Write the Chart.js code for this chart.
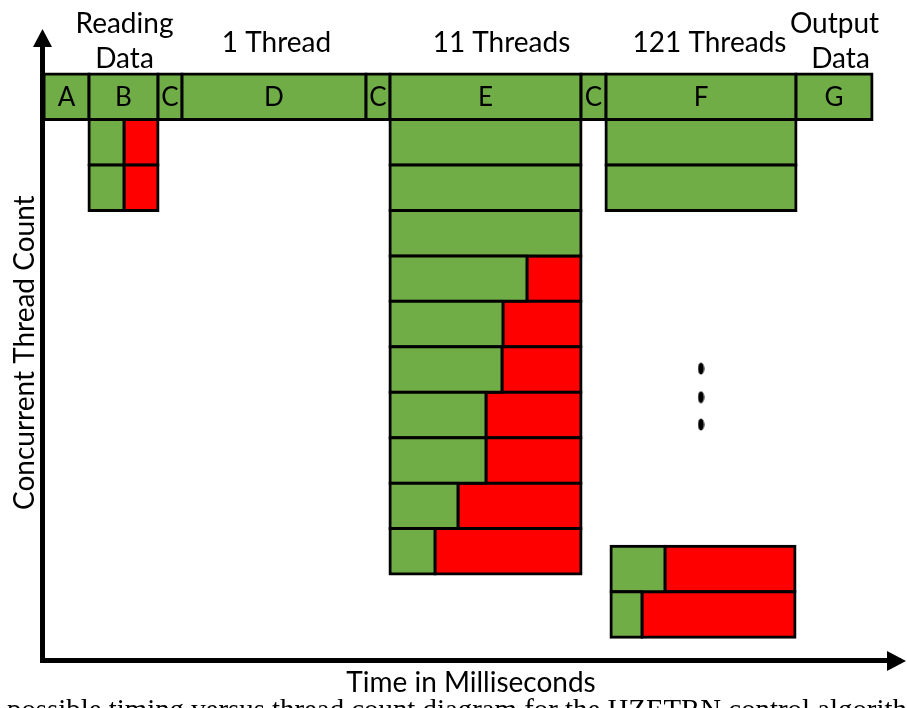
<!DOCTYPE html>
<html>
<head>
<meta charset="utf-8">
<script src="https://cdn.jsdelivr.net/npm/chart.js@4/dist/chart.umd.min.js"></script>
<style>
  html, body { margin: 0; padding: 0; background: #ffffff; }
  #wrap { width: 907px; height: 708px; position: relative; overflow: hidden; }
</style>
</head>
<body>
<div id="wrap"><canvas id="c" width="907" height="708"></canvas></div>
<script>
// ---------------- data (time axis in ms) ----------------
const phaseLabels = ['A', 'B', 'C', 'D', 'C', 'E', 'C', 'F', 'G'];
const phaseBounds = [2, 47, 116, 140, 324, 348, 539, 564, 754, 830];

const headerLines = [['Reading', 'Data'], ['1 Thread'], ['11 Threads'], ['121 Threads'], ['Output', 'Data']];
const headerPhase = [1, 3, 5, 7, 8];

// Reading data (phase B): two concurrent threads
const readRows = [1, 2];
const readStart = 47;
const readBusyEnd = [82, 82];
const readEnd = 116;

// 11 threads (phase E)
const e11Rows = [1, 2, 3, 4, 5, 6, 7, 8, 9, 10];
const e11Start = 348;
const e11BusyEnd = [539, 539, 539, 485, 461, 460, 444, 444, 416, 393];
const e11End = 539;

// 121 threads (phase F): first two threads ...
const f121TopRows = [1, 2];
const f121TopStart = 564;
const f121TopBusyEnd = [754, 754];
const f121TopEnd = 754;
// ... and the last two threads
const f121BottomRows = [10.39, 11.39];
const f121BottomStart = 569;
const f121BottomBusyEnd = [623, 600];
const f121BottomEnd = 753;

// vertical ellipsis between them
const ellipsisRows = [6.48, 7.11, 7.71];

// ---------------- build datasets ----------------
const GREEN = '#70AD47';
const RED = '#FF0000';
const center = r => r + 0.5;

const phaseData = phaseLabels.map((l, i) => ({ x: [phaseBounds[i], phaseBounds[i + 1]], y: center(0) }));

const busyData = [];
const idleData = [];
function addGroup(rows, start, busyEnd, end, busy, idle) {
  rows.forEach((r, i) => {
    busy.push({ x: [start, busyEnd[i]], y: center(r) });
    if (busyEnd[i] < end) idle.push({ x: [busyEnd[i], end], y: center(r) });
  });
}
addGroup(readRows, readStart, readBusyEnd, readEnd, busyData, idleData);
addGroup(e11Rows, e11Start, e11BusyEnd, e11End, busyData, idleData);
addGroup(f121TopRows, f121TopStart, f121TopBusyEnd, f121TopEnd, busyData, idleData);

const busyData2 = [];
const idleData2 = [];
addGroup(f121BottomRows, f121BottomStart, f121BottomBusyEnd, f121BottomEnd, busyData2, idleData2);

const fCenter = (phaseBounds[7] + phaseBounds[8]) / 2;
const dotData = ellipsisRows.map(r => ({ x: fCenter, y: r }));

// elliptical dot glyph
const dot = document.createElement('canvas');
dot.width = 7; dot.height = 13;
(function () {
  const g = dot.getContext('2d');
  g.fillStyle = '#000';
  g.beginPath();
  g.ellipse(3.5, 6.5, 3, 6, 0, 0, Math.PI * 2);
  g.fill();
})();

const barStyle = {
  borderColor: '#000000',
  borderWidth: 3,
  borderSkipped: false,
  inflateAmount: 1.5,
  categoryPercentage: 1,
  barPercentage: 1,
  grouped: false
};

// ---------------- decorations plugin ----------------
const headerShift = [[1, 1], [2.5], [16], [8.5], [0.5, 6.5]];

const decor = {
  id: 'decor',
  afterDraw(chart) {
    const ctx = chart.ctx;
    const { left, right, top, bottom } = chart.chartArea;
    const xs = chart.scales.x, ys = chart.scales.y;
    ctx.save();
    ctx.fillStyle = '#000';

    // phase letters inside top-row bars
    const meta = chart.getDatasetMeta(0);
    ctx.font = '26px Lato';
    ctx.textAlign = 'center';
    ctx.textBaseline = 'middle';
    meta.data.forEach((bar, i) => {
      ctx.fillText(phaseLabels[i], (bar.x + bar.base) / 2, bar.y + 1);
    });

    // headers above phases
    const rowTop = ys.getPixelForValue(0);
    ctx.font = '28px Lato';
    ctx.textBaseline = 'alphabetic';
    headerLines.forEach((lines, i) => {
      const p = headerPhase[i];
      const cx = xs.getPixelForValue((phaseBounds[p] + phaseBounds[p + 1]) / 2);
      if (lines.length === 1) {
        ctx.fillText(lines[0], cx + headerShift[i][0], rowTop - 22);
      } else {
        ctx.fillText(lines[0], cx + headerShift[i][0], rowTop - 41);
        ctx.fillText(lines[1], cx + headerShift[i][1], rowTop - 6);
      }
    });

    // arrow heads
    const ax = left + 0.5;
    ctx.beginPath();
    ctx.moveTo(ax, 29);
    ctx.lineTo(ax - 9.5, 47);
    ctx.lineTo(ax + 9.5, 47);
    ctx.closePath();
    ctx.fill();
    const ay = bottom + 0.5;
    ctx.beginPath();
    ctx.moveTo(906, ay);
    ctx.lineTo(887, ay - 10);
    ctx.lineTo(887, ay + 10);
    ctx.closePath();
    ctx.fill();

    // clipped figure caption
    const cap = 'possible timing versus thread count diagram for the HZETRN control algorithm';
    const capFit = 'possible timing versus thread count diagram for the HZETRN control algorith';
    ctx.font = '22px "Liberation Serif"';
    const w = ctx.measureText(capFit).width;
    const s = 22 * 900 / w;
    ctx.font = s.toFixed(2) + 'px "Liberation Serif"';
    ctx.textAlign = 'left';
    ctx.textBaseline = 'alphabetic';
    ctx.fillText(cap, 7, 706 + 0.46 * s);
    ctx.restore();
  }
};

const noTicks = scale => { scale.ticks = []; };

// ---------------- chart ----------------
new Chart(document.getElementById('c'), {
  type: 'bar',
  data: {
    datasets: [
      Object.assign({ label: 'Phases', data: phaseData, backgroundColor: GREEN, yAxisID: 'y' }, barStyle),
      Object.assign({ label: 'Working', data: busyData, backgroundColor: GREEN, yAxisID: 'y' }, barStyle),
      Object.assign({ label: 'Waiting', data: idleData, backgroundColor: RED, yAxisID: 'y' }, barStyle),
      Object.assign({ label: 'Working (last threads)', data: busyData2, backgroundColor: GREEN, yAxisID: 'y2' }, barStyle),
      Object.assign({ label: 'Waiting (last threads)', data: idleData2, backgroundColor: RED, yAxisID: 'y2' }, barStyle),
      {
        type: 'scatter', label: 'More threads', data: dotData, indexAxis: 'x',
        xAxisID: 'x', yAxisID: 'y',
        pointStyle: dot, pointRadius: 6, backgroundColor: '#000', borderColor: '#000'
      }
    ]
  },
  options: {
    indexAxis: 'y',
    responsive: false,
    maintainAspectRatio: false,
    devicePixelRatio: 1,
    animation: false,
    events: [],
    layout: { padding: { left: 4.2, right: 0, top: 45, bottom: 8 } },
    plugins: { legend: { display: false }, tooltip: { enabled: false }, title: { display: false } },
    scales: {
      x: {
        type: 'linear', min: 0, max: 858, offset: false,
        grid: { display: false, drawTicks: false },
        ticks: { display: false },
        afterBuildTicks: noTicks,
        border: { display: true, width: 5, color: '#000' },
        title: {
          display: true, text: 'Time in Milliseconds', color: '#000',
          font: { family: 'Lato', size: 28 }, padding: { top: 6, bottom: 0 }
        }
      },
      y: {
        type: 'linear', reverse: true, min: -0.64, max: 12.9, offset: false,
        grid: { display: false, drawTicks: false },
        ticks: { display: false },
        afterBuildTicks: noTicks,
        border: { display: true, width: 5, color: '#000' },
        title: {
          display: true, text: 'Concurrent Thread Count', color: '#000',
          font: { family: 'Lato', size: 28 }, padding: { top: 4, bottom: 0.2 }
        }
      },
      y2: {
        type: 'linear', reverse: true, min: -0.64, max: 12.9, offset: false,
        display: false,
        afterBuildTicks: noTicks
      }
    }
  },
  plugins: [decor]
});
</script>
</body>
</html>
